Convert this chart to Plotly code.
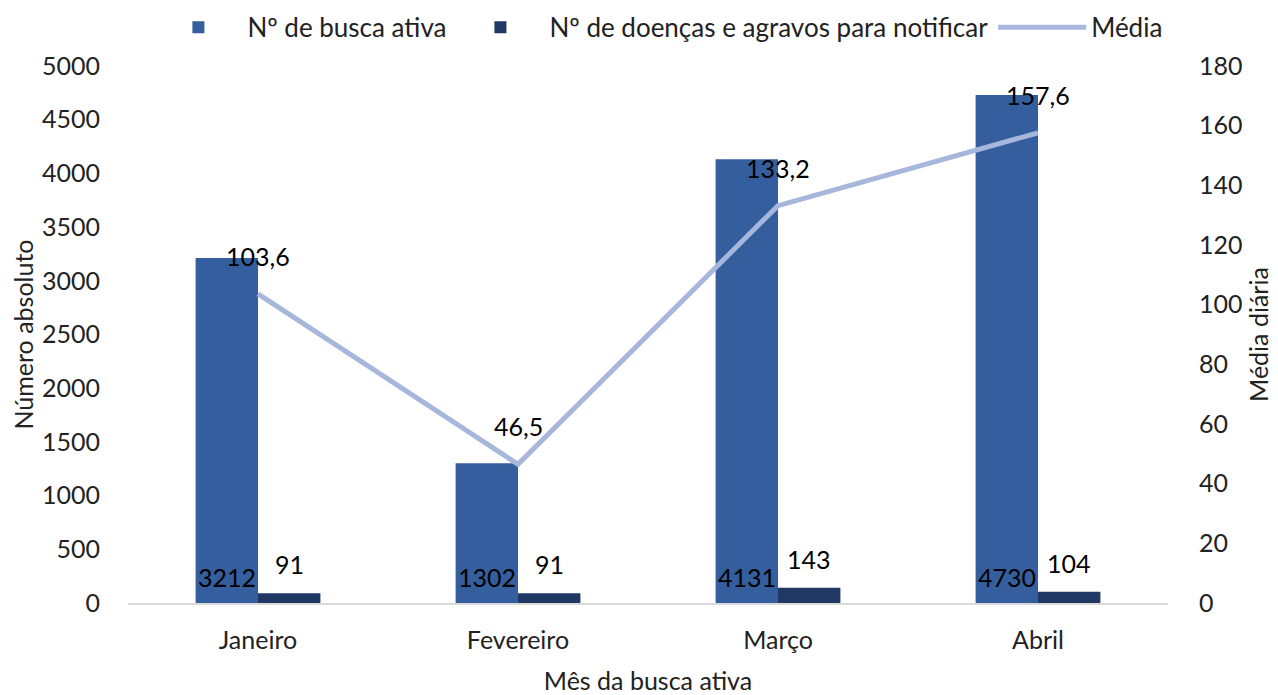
import plotly.graph_objects as go

months = ["Janeiro", "Fevereiro", "Março", "Abril"]
busca_ativa = [3212, 1302, 4131, 4730]
doencas = [91, 91, 143, 104]
media = [103.6, 46.5, 133.2, 157.6]

FONT = "Lato"
fs = 25
BAR_HALF = 31  # px offset of label from group centre (style)

fig = go.Figure()
fig.add_trace(go.Bar(
    x=months, y=busca_ativa, name="Nº de busca ativa",
    marker=dict(color="#355E9E", line=dict(width=0)),
))
fig.add_trace(go.Bar(
    x=months, y=doencas, name="Nº de doenças e agravos para notificar",
    marker=dict(color="#203864", line=dict(width=0)),
))
fig.add_trace(go.Scatter(
    x=months, y=media, name="Média", yaxis="y2", mode="lines",
    line=dict(color="#A7B6DB", width=5),
))

ann = []
lab_font = dict(family=FONT, size=fs, color="black")
for m, v in zip(months, busca_ativa):
    ann.append(dict(x=m, y=0, xref="x", yref="y", text=str(v), showarrow=False,
                    xshift=-BAR_HALF, yanchor="middle", yshift=26, font=lab_font))
for m, v in zip(months, doencas):
    ann.append(dict(x=m, y=v, xref="x", yref="y", text=str(v), showarrow=False,
                    xshift=BAR_HALF, yanchor="middle", yshift=29, font=lab_font))
for m, v in zip(months, media):
    ann.append(dict(x=m, y=v, xref="x", yref="y2", text=f"{v:.1f}".replace(".", ","),
                    showarrow=False, yanchor="middle", yshift=38, font=lab_font))

invis = "rgba(0,0,0,0)"
fig.update_layout(
    width=1270, height=687,
    margin=dict(l=120, r=110, t=58, b=92, autoexpand=False),
    paper_bgcolor="white", plot_bgcolor="white",
    font=dict(family=FONT, size=fs, color="#222"),
    barmode="group", bargap=0.52, bargroupgap=0,
    showlegend=True,
    annotations=ann,
    legend=dict(orientation="h", x=0.51, xanchor="center", y=1.072, yanchor="middle",
                font=dict(size=26, family=FONT), traceorder="normal",
                itemwidth=88, bgcolor="rgba(0,0,0,0)"),
    xaxis=dict(title=dict(text="Mês da busca ativa", font=dict(size=fs), standoff=34),
               showline=True, linecolor="#D9D9D9", linewidth=2,
               ticks="outside", ticklen=14, tickcolor=invis,
               showgrid=False, tickfont=dict(size=fs), automargin=False),
    yaxis=dict(title=dict(text="Número absoluto", font=dict(size=fs), standoff=18),
               range=[0, 5000], dtick=500, showgrid=False, zeroline=False,
               showline=False, ticks="outside", ticklen=22, tickcolor=invis,
               tickfont=dict(size=fs), automargin=False),
    yaxis2=dict(title=dict(text="Média diária", font=dict(size=fs), standoff=3),
                range=[0, 180], dtick=20, overlaying="y", side="right",
                showgrid=False, zeroline=False, showline=False,
                ticks="outside", ticklen=25, tickcolor=invis,
                tickfont=dict(size=fs), automargin=False),
)

fig.write_html("out.html")
